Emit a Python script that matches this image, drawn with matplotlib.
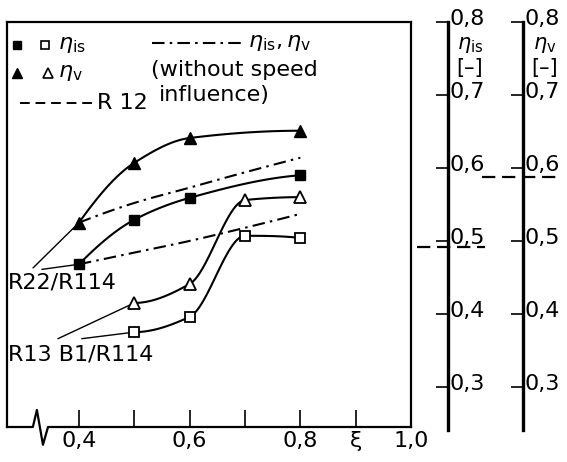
"""
Isentropic and volumetric efficiency vs. xi for refrigerant mixtures.
"""

import numpy as np
import matplotlib
matplotlib.use("Agg")
import matplotlib.pyplot as plt
from matplotlib.transforms import blended_transform_factory, ScaledTranslation

# data
xi_r22 = [0.4, 0.5, 0.6, 0.8]
eta_v_r22 = [0.525, 0.607, 0.641, 0.651]
eta_is_r22 = [0.468, 0.529, 0.559, 0.590]

xi_r13 = [0.5, 0.6, 0.7, 0.8]
eta_v_r13 = [0.415, 0.441, 0.556, 0.560]
eta_is_r13 = [0.375, 0.396, 0.507, 0.504]

# without speed influence
xi_ns = [0.4, 0.5, 0.6, 0.7, 0.8]
eta_v_ns = [0.525, 0.552, 0.573, 0.594, 0.614]
eta_is_ns = [0.468, 0.484, 0.500, 0.518, 0.537]

# R 12 reference values
eta_is_r12 = 0.491
eta_v_r12 = 0.587

x_ticks = [0.4, 0.5, 0.6, 0.7, 0.8, 0.9, 1.0]
x_labels = ["0,4", "", "0,6", "", "0,8", "\u03be", "1,0"]
y_ticks = [0.3, 0.4, 0.5, 0.6, 0.7, 0.8]
y_labels = ["0,3", "0,4", "0,5", "0,6", "0,7", "0,8"]

plt.rcParams["font.family"] = ["DejaVu Sans"]
plt.rcParams["mathtext.fontset"] = "dejavusans"
FS = 16


def pchip(x, y, n=120):
    # monotone cubic through the points, just for drawing smooth curves
    x = np.asarray(x, float)
    y = np.asarray(y, float)
    h = np.diff(x)
    d = np.diff(y) / h
    m = np.zeros_like(y)
    for k in range(1, len(x) - 1):
        if d[k - 1] * d[k] > 0:
            w1 = 2 * h[k] + h[k - 1]
            w2 = h[k] + 2 * h[k - 1]
            m[k] = (w1 + w2) / (w1 / d[k - 1] + w2 / d[k])

    def end(h0, h1, d0, d1):
        s = ((2 * h0 + h1) * d0 - h0 * d1) / (h0 + h1)
        if np.sign(s) != np.sign(d0):
            s = 0.0
        elif np.sign(d0) != np.sign(d1) and abs(s) > abs(3 * d0):
            s = 3 * d0
        return s

    m[0] = end(h[0], h[1], d[0], d[1])
    m[-1] = end(h[-1], h[-2], d[-1], d[-2])
    xs = np.linspace(x[0], x[-1], n)
    i = np.clip(np.searchsorted(x, xs) - 1, 0, len(h) - 1)
    t = (xs - x[i]) / h[i]
    ys = ((2 * t**3 - 3 * t**2 + 1) * y[i] + (t**3 - 2 * t**2 + t) * h[i] * m[i]
          + (-2 * t**3 + 3 * t**2) * y[i + 1] + (t**3 - t**2) * h[i] * m[i + 1])
    return xs, ys


def main():
    W, H = 567, 462
    fig = plt.figure(figsize=(W / 100, H / 100), dpi=100)

    # main box: pixel x 7..411, y 22..427
    ax = fig.add_axes([7 / W, (H - 427) / H, 404 / W, 405 / H])
    ax.set_xlim(0.27, 1.0)
    ax.set_ylim(0.245, 0.80)
    for s in ["left", "top", "right"]:
        ax.spines[s].set_linewidth(1.6)
    ax.spines["bottom"].set_visible(False)
    ax.set_yticks([])
    ax.set_xticks(x_ticks)
    ax.set_xticklabels(x_labels, fontsize=FS)
    ax.tick_params(axis="x", direction="in", length=12, width=1.2, pad=3)

    # bottom line with break mark
    bx = [0, 0.064, 0.074, 0.089, 0.1015, 1.0]
    by = [0, 0, 0.042, -0.044, 0, 0]
    ax.plot(bx, by, color="black", lw=1.6, transform=ax.transAxes, clip_on=False)

    dashdot = (0, (6, 2.5, 1.2, 2.5))
    lw = 1.5

    ax.plot(*pchip(xi_ns, eta_v_ns), color="black", lw=lw, ls=dashdot)
    ax.plot(*pchip(xi_ns, eta_is_ns), color="black", lw=lw, ls=dashdot)

    ax.plot(*pchip(xi_r22, eta_v_r22), color="black", lw=lw)
    ax.plot(*pchip(xi_r22, eta_is_r22), color="black", lw=lw)
    ax.plot(*pchip(xi_r13, eta_v_r13), color="black", lw=lw)
    ax.plot(*pchip(xi_r13, eta_is_r13), color="black", lw=lw)

    ax.plot(xi_r22, eta_v_r22, "^", color="black", ms=9, zorder=5)
    ax.plot(xi_r22, eta_is_r22, "s", color="black", ms=7.5, zorder=5)
    ax.plot(xi_r13, eta_v_r13, "^", mfc="white", mec="black", mew=1.3, ms=9, zorder=5)
    ax.plot(xi_r13, eta_is_r13, "s", mfc="white", mec="black", mew=1.3, ms=7, zorder=5)

    # labels with leader lines
    ax.text(0.003, 0.356, "R22/R114", transform=ax.transAxes, fontsize=FS,
            ha="left", va="center")
    ax.text(0.003, 0.178, "R13 B1/R114", transform=ax.transAxes, fontsize=FS,
            ha="left", va="center")
    lead = dict(arrowstyle="-", shrinkA=0, shrinkB=0, color="black", lw=1.0)
    ax.annotate("", xy=(xi_r22[0], eta_v_r22[0]), xytext=(0.317, 0.463), arrowprops=lead)
    ax.annotate("", xy=(xi_r22[0], eta_is_r22[0]), xytext=(0.333, 0.461), arrowprops=lead)
    ax.annotate("", xy=(xi_r13[0], eta_v_r13[0]), xytext=(0.362, 0.366), arrowprops=lead)
    ax.annotate("", xy=(xi_r13[0], eta_is_r13[0]), xytext=(0.405, 0.366), arrowprops=lead)

    # legend, drawn by hand
    t = ax.transAxes
    ax.plot([0.025], [0.943], "s", color="black", ms=6, transform=t)
    ax.plot([0.094], [0.943], "s", mfc="white", mec="black", mew=1.2, ms=6, transform=t)
    ax.text(0.126, 0.943, r"$\eta_{\rm is}$", transform=t, fontsize=FS, va="center")
    ax.plot([0.025], [0.874], "^", color="black", ms=7, transform=t)
    ax.plot([0.101], [0.874], "^", mfc="white", mec="black", mew=1.2, ms=7, transform=t)
    ax.text(0.126, 0.874, r"$\eta_{\rm v}$", transform=t, fontsize=FS, va="center")
    ax.plot([0.032, 0.218], [0.80, 0.80], color="black", lw=1.4, ls=(0, (5, 3)),
            transform=t)
    ax.text(0.223, 0.80, "R 12", transform=t, fontsize=FS, va="center")
    ax.plot([0.359, 0.589], [0.948, 0.948], color="black", lw=lw, ls=dashdot,
            transform=t)
    ax.text(0.597, 0.948, r"$\eta_{\rm is}, \eta_{\rm v}$", transform=t,
            fontsize=FS, va="center")
    ax.text(0.562, 0.881, "(without speed", transform=t, fontsize=FS,
            ha="center", va="center")
    ax.text(0.512, 0.82, "influence)", transform=t, fontsize=FS,
            ha="center", va="center")

    # separate efficiency scales on the right
    lift = ScaledTranslation(0, 5 / 100, fig.dpi_scale_trans)
    for xpos, name in [(448, r"$\eta_{\rm is}$"), (523, r"$\eta_{\rm v}$")]:
        sa = fig.add_axes([(xpos - 12) / W, (H - 430) / H, 12 / W, 408 / H])
        sa.set_ylim(0.241, 0.80)
        sa.patch.set_visible(False)
        for s in ["left", "top", "bottom"]:
            sa.spines[s].set_visible(False)
        sa.spines["right"].set_linewidth(2.4)
        sa.set_xticks([])
        sa.yaxis.tick_right()
        sa.set_yticks(y_ticks)
        sa.set_yticklabels(y_labels, fontsize=FS)
        sa.tick_params(axis="y", direction="in", length=8.6, width=1.2, pad=1)
        for lbl in sa.get_yticklabels():
            lbl.set_transform(lbl.get_transform() + lift)
        fig.text((xpos + 22) / W, 1 - 45 / H, name, fontsize=FS - 1,
                 ha="center", va="center")
        fig.text((xpos + 22) / W, 1 - 68 / H, "[\u2013]", fontsize=FS - 1,
                 ha="center", va="center")

    # R 12 markers on the scales
    tr = blended_transform_factory(fig.transFigure, ax.transData)
    ax.plot([417 / W, 485 / W], [eta_is_r12, eta_is_r12], color="black", lw=1.6,
            ls=(0, (6, 3)), transform=tr, clip_on=False)
    ax.plot([482 / W, 560 / W], [eta_v_r12, eta_v_r12], color="black", lw=1.6,
            ls=(0, (6, 3)), transform=tr, clip_on=False)

    fig.savefig("out.png", dpi=100)


if __name__ == "__main__":
    main()
